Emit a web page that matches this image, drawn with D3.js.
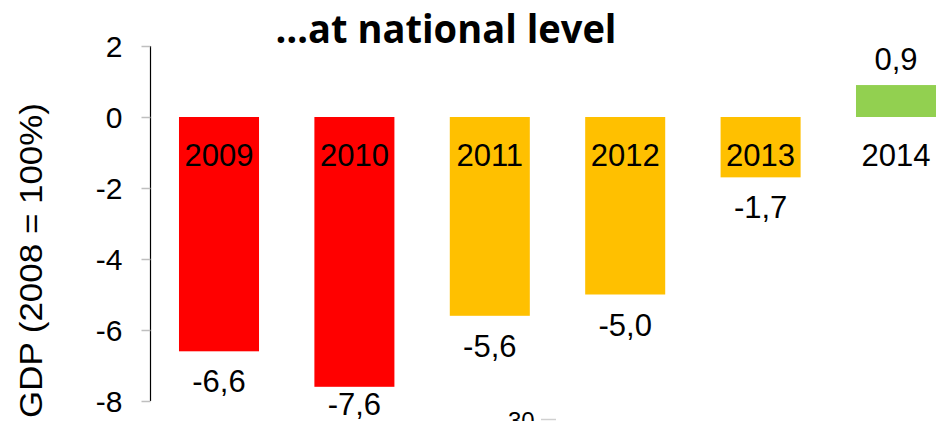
<!DOCTYPE html>
<html>
<head>
<meta charset="utf-8">
<script src="https://cdn.jsdelivr.net/npm/d3@7"></script>
<style>
  html, body { margin: 0; padding: 0; background: #fff; overflow: hidden; }
  text { font-family: "Liberation Sans", Arial, sans-serif; }
</style>
</head>
<body>
<svg id="chart" width="937" height="421"></svg>
<script>
// data
var years = ["2009", "2010", "2011", "2012", "2013", "2014"];
var values = [-6.6, -7.6, -5.6, -5.0, -1.7, 0.9];
var barColors = ["#ff0000", "#ff0000", "#ffc000", "#ffc000", "#ffc000", "#92d050"];
var yTicks = [2, 0, -2, -4, -6, -8];

var svg = d3.select("#chart");

var y = d3.scaleLinear().domain([-8, 2]).range([401, 46]);
var x = d3.scaleBand().domain(years)
    .range([151.3, 963.7])
    .paddingInner(0.409)
    .paddingOuter(0.2045);

var fmt = function(v) { return d3.format(".1f")(v).replace(".", ",").replace("−", "-"); };

// title
svg.append("text")
    .attr("x", 446).attr("y", 43)
    .attr("text-anchor", "middle")
    .attr("textLength", 341)
    .attr("lengthAdjust", "spacingAndGlyphs")
    .style("font-family", "'Open Sans', Lato, sans-serif")
    .style("font-weight", "bold")
    .style("font-size", "40px")
    .text("\u2026at national level");

// y axis
var axis = svg.append("g").attr("transform", "translate(150.5,0)")
    .call(d3.axisLeft(y).tickValues(yTicks).tickSize(9).tickPadding(19)
      .tickFormat(function(d) { return d3.format("d")(d).replace("−", "-"); }));
axis.select(".domain").attr("stroke", "#000").attr("stroke-width", 1.2).attr("d", "M0," + y(2) + "V" + y(-8));
axis.selectAll(".tick line").attr("stroke", "#bfbfbf").attr("stroke-width", 1.5);
axis.selectAll(".tick text")
    .style("font-size", "30px")
    .attr("fill", "#000")
    .attr("dy", "0.36em");

// y label
svg.append("text")
    .attr("transform", "translate(42,260.5) rotate(-90)")
    .attr("text-anchor", "middle")
    .attr("textLength", 315)
    .attr("lengthAdjust", "spacingAndGlyphs")
    .style("font-size", "32px")
    .text("GDP (2008 = 100%)");

// bars
svg.selectAll("rect.bar")
  .data(values)
  .enter().append("rect")
    .attr("class", "bar")
    .attr("x", function(d, i) { return x(years[i]); })
    .attr("width", x.bandwidth())
    .attr("y", function(d) { return y(Math.max(0, d)); })
    .attr("height", function(d) { return Math.abs(y(d) - y(0)); })
    .attr("fill", function(d, i) { return barColors[i]; });

// category labels
svg.selectAll("text.cat")
  .data(years)
  .enter().append("text")
    .attr("class", "cat")
    .attr("x", function(d) { return x(d) + x.bandwidth() / 2; })
    .attr("y", 166)
    .attr("text-anchor", "middle")
    .style("font-size", "31px")
    .text(function(d) { return d; });

// value labels
svg.selectAll("text.val")
  .data(values)
  .enter().append("text")
    .attr("class", "val")
    .attr("x", function(d, i) { return x(years[i]) + x.bandwidth() / 2; })
    .attr("y", function(d) { return d < 0 ? Math.min(y(d) + 41, 415) : y(d) - 15; })
    .attr("text-anchor", "middle")
    .style("font-size", "31px")
    .text(fmt);

// cut-off label from the next chart below (it is cut off in the original too)
svg.append("text")
    .attr("x", 508).attr("y", 429)
    .style("font-size", "24px")
    .text("30");
svg.append("line")
    .attr("x1", 541).attr("x2", 556)
    .attr("y1", 419.5).attr("y2", 419.5)
    .attr("stroke", "#d0d0d0").attr("stroke-width", 1.5);
</script>
</body>
</html>
